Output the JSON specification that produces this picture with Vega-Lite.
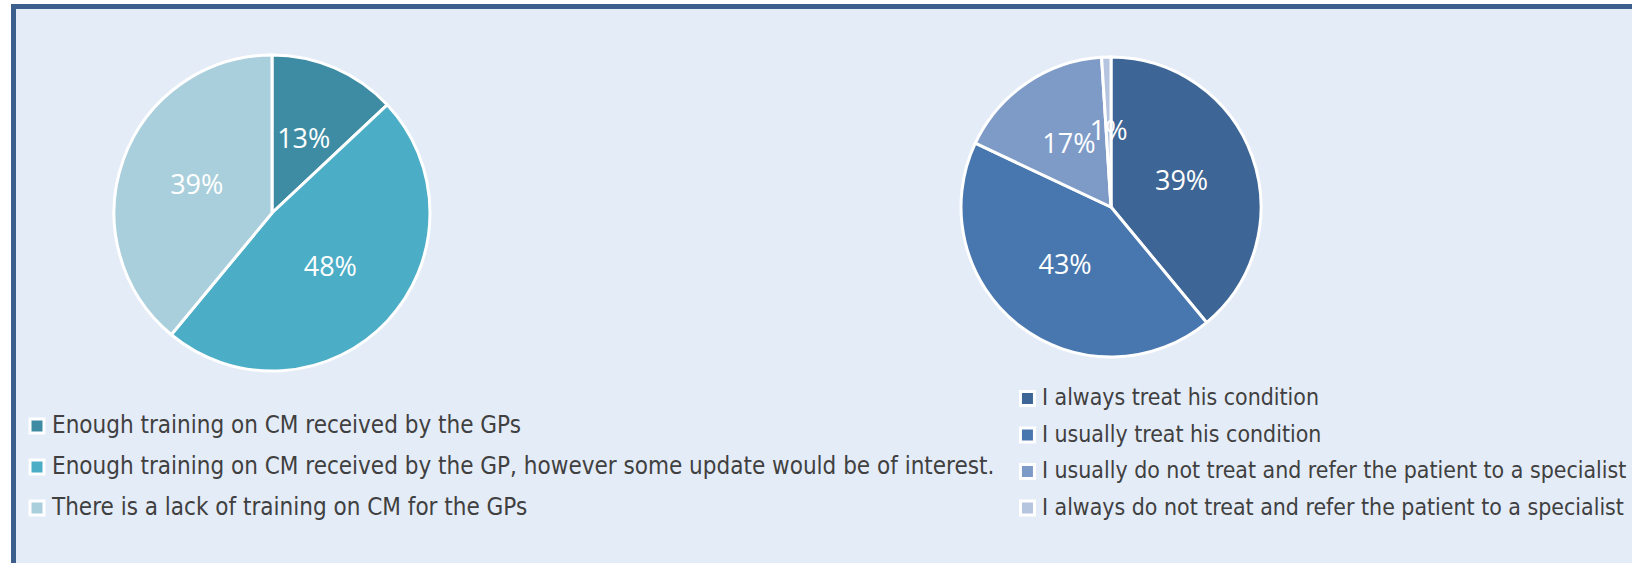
{
  "$schema": "https://vega.github.io/schema/vega-lite/v6.json",
  "background": "#E4ECF8",
  "padding": 0,
  "bounds": "flush",
  "spacing": 0,
  "config": {"view": {"stroke": null}, "concat": {"spacing": 0}},
  "resolve": {"scale": {"color": "independent"}, "legend": {"color": "independent"}},
  "hconcat": [
    {
      "width": 11, "height": 563,
      "view": {"fill": "white", "stroke": null},
      "data": {"values": []},
      "mark": "rect",
      "encoding": {}
    },
    {
      "spacing": 0,
      "bounds": "flush",
      "resolve": {"scale": {"color": "independent"}, "legend": {"color": "independent"}},
      "vconcat": [
        {
          "width": 1621, "height": 4,
          "view": {"fill": "white", "stroke": null},
          "data": {"values": []},
          "mark": "rect",
          "encoding": {}
        },
        {
          "width": 1621, "height": 5,
          "view": {"fill": "#3C5F8E", "stroke": null},
          "data": {"values": []},
          "mark": "rect",
          "encoding": {}
        },
        {
          "spacing": 0,
          "bounds": "flush",
          "resolve": {"scale": {"color": "independent"}, "legend": {"color": "independent"}},
          "hconcat": [
            {
              "width": 5, "height": 554,
              "view": {"fill": "#3C5F8E", "stroke": null},
              "data": {"values": []},
              "mark": "rect",
              "encoding": {}
            },
            {
              "width": 512, "height": 408,
              "data": {"values": [
                {"answer": "Enough training on CM received by the GPs", "share": 0.13, "k": 1},
                {"answer": "Enough training on CM received by the GP, however some update would be of interest.", "share": 0.48, "k": 2},
                {"answer": "There is a lack of training on CM for the GPs", "share": 0.39, "k": 3}
              ]},
              "encoding": {
                "theta": {"field": "share", "type": "quantitative", "stack": true},
                "order": {"field": "k", "type": "quantitative"},
                "color": {
                  "field": "answer", "type": "nominal",
                  "scale": {
                    "domain": ["Enough training on CM received by the GPs", "Enough training on CM received by the GP, however some update would be of interest.", "There is a lack of training on CM for the GPs"],
                    "range": ["#3E8CA4", "#4BADC6", "#AACFDC"]
                  },
                  "legend": {
                    "orient": "none", "legendX": 9, "legendY": 405, "title": null,
                    "symbolType": "square", "symbolSize": 196, "symbolStrokeColor": "white", "symbolStrokeWidth": 3,
                    "labelFont": "DejaVu Sans Condensed, Liberation Sans, sans-serif", "labelFontSize": 24, "labelColor": "#404040",
                    "rowPadding": 15, "labelOffset": 3, "labelLimit": 1000
                  }
                }
              },
              "layer": [
                {"mark": {"type": "arc", "outerRadius": 158, "stroke": "white", "strokeWidth": 3}},
                {"mark": {"type": "text", "radius": 80, "fontSize": 27, "font": "Open Sans", "fill": "white"},
                 "encoding": {"text": {"field": "share", "type": "quantitative", "format": ".0%"}}}
              ]
            },
            {
              "width": 62, "height": 10,
              "data": {"values": []},
              "mark": "rect",
              "encoding": {}
            },
            {
              "width": 1042, "height": 396,
              "data": {"values": [
                {"answer": "I always treat his condition", "share": 0.39, "k": 1},
                {"answer": "I usually treat his condition", "share": 0.43, "k": 2},
                {"answer": "I usually do not treat and refer the patient to a specialist", "share": 0.17, "k": 3},
                {"answer": "I always do not treat and refer the patient to a specialist", "share": 0.01, "k": 4}
              ]},
              "encoding": {
                "theta": {"field": "share", "type": "quantitative", "stack": true},
                "order": {"field": "k", "type": "quantitative"},
                "color": {
                  "field": "answer", "type": "nominal",
                  "scale": {
                    "domain": ["I always treat his condition", "I usually treat his condition", "I usually do not treat and refer the patient to a specialist", "I always do not treat and refer the patient to a specialist"],
                    "range": ["#3D6595", "#4877AF", "#7E9BC8", "#B5C5E0"]
                  },
                  "legend": {
                    "orient": "none", "legendX": 426, "legendY": 378, "title": null,
                    "symbolType": "square", "symbolSize": 196, "symbolStrokeColor": "white", "symbolStrokeWidth": 3,
                    "labelFont": "DejaVu Sans Condensed, Liberation Sans, sans-serif", "labelFontSize": 22.9, "labelColor": "#404040",
                    "rowPadding": 9.5, "labelOffset": 3, "labelLimit": 600
                  }
                }
              },
              "layer": [
                {"mark": {"type": "arc", "outerRadius": 150, "stroke": "white", "strokeWidth": 3}},
                {"mark": {"type": "text", "radius": 75, "fontSize": 27, "font": "Open Sans", "fill": "white"},
                 "encoding": {"text": {"field": "share", "type": "quantitative", "format": ".0%"}}}
              ]
            }
          ]
        }
      ]
    }
  ]
}
